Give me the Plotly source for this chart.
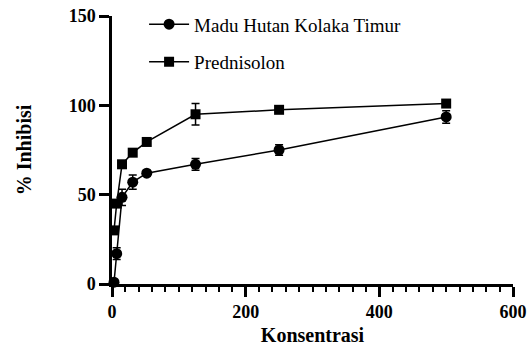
import plotly.graph_objects as go

# Concentration series and % inhibition (mean ± SD)
konsentrasi = [3, 7, 15, 31, 52, 125, 250, 500]

madu_mean = [1, 17, 48.5, 57, 62, 67, 75, 93.5]
madu_sd = [0.5, 3.3, 4.5, 4, 1.5, 3.3, 3, 3.5]

pred_mean = [30, 45, 67, 73.5, 79.5, 95, 97.5, 101]
pred_sd = [1.5, 2, 2, 1.5, 1.5, 6, 2, 1.5]

series_names = ["Madu Hutan Kolaka Timur", "Prednisolon"]

x_ticks = [0, 200, 400, 600]
y_ticks = [0, 50, 100, 150]

FONT = "Liberation Serif"

fig = go.Figure()

fig.add_trace(go.Scatter(
    x=konsentrasi, y=madu_mean, name=series_names[0], legendgroup="a",
    mode="lines+markers",
    line=dict(color="black", width=1.5),
    marker=dict(symbol="circle", size=11, color="black"),
    error_y=dict(type="data", array=madu_sd, color="black", thickness=1.5, width=4),
    cliponaxis=False,
))
fig.add_trace(go.Scatter(
    x=konsentrasi, y=pred_mean, name=series_names[1], legendgroup="b",
    mode="lines+markers",
    line=dict(color="black", width=1.5),
    marker=dict(symbol="square", size=10, color="black"),
    error_y=dict(type="data", array=pred_sd, color="black", thickness=1.5, width=4),
    cliponaxis=False,
))

fig.update_layout(
    width=529, height=352,
    margin=dict(l=112, r=16, t=16, b=68, autoexpand=False),
    plot_bgcolor="white", paper_bgcolor="white",
    font=dict(family=FONT, color="black"),
    showlegend=True,
    legend=dict(
        x=0.08, y=0.985, xanchor="left", yanchor="top", yref="container",
        font=dict(family=FONT, size=19, color="black"),
        bgcolor="rgba(0,0,0,0)", tracegroupgap=10, itemwidth=40,
    ),
    xaxis=dict(
        range=[0, 600], tickvals=x_ticks, ticktext=[f"<b>{v}</b>" for v in x_ticks],
        automargin=False,
        showline=True, linecolor="black", linewidth=2.5,
        ticks="outside", ticklen=10, tickwidth=2.5, tickcolor="black",
        minor=dict(dtick=20, ticks="outside", ticklen=5, tickwidth=2, tickcolor="black", showgrid=False),
        showgrid=False, zeroline=False,
        tickfont=dict(family=FONT, size=18),
        title=dict(text="<b>Konsentrasi</b>", font=dict(family=FONT, size=20), standoff=7),
    ),
    yaxis=dict(
        range=[0, 150], tickvals=y_ticks, ticktext=[f"<b>{v}</b>" for v in y_ticks],
        automargin=False,
        showline=True, linecolor="black", linewidth=2.5,
        ticks="outside", ticklen=10, tickwidth=2.5, tickcolor="black",
        showgrid=False, zeroline=False,
        tickfont=dict(family=FONT, size=18),
        title=dict(text="<b>% Inhibisi</b>", font=dict(family=FONT, size=20), standoff=32),
    ),
)

fig.write_html("out.html")
